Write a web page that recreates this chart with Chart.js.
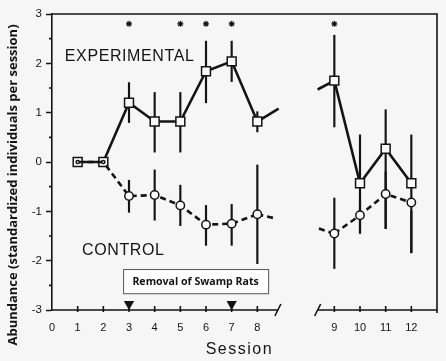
<!DOCTYPE html>
<html>
<head>
<meta charset="utf-8">
<script src="https://cdn.jsdelivr.net/npm/chart.js@4"></script>
<style>
body{margin:0;background:#f6f6f6}
#wrap{width:446px;height:361px}
</style>
</head>
<body>
<div id="wrap"><canvas id="chart" width="446" height="361"></canvas></div>
<script>

// sessions and the values
const sessions=[1,2,3,4,5,6,7,8,9,10,11,12]
const expMean=[0,0,1.2,0.82,0.82,1.84,2.04,0.82,1.65,-0.43,0.27,-0.43]
const expLow=[null,null,0.8,0.2,0.2,1.2,1.63,0.61,0.71,-1.4,-1.35,-1.84]
const expHigh=[null,null,1.61,1.41,1.41,2.45,2.45,1.02,2.57,0.55,1.06,0.55]
const ctrlMean=[0,0,-0.69,-0.67,-0.88,-1.27,-1.25,-1.06,-1.45,-1.08,-0.65,-0.82]
const ctrlLow=[null,null,-1.02,-1.18,-1.29,-1.69,-1.69,-2.06,-2.16,-1.45,-1.35,-1.84]
const ctrlHigh=[null,null,-0.37,-0.16,-0.47,-0.88,-0.86,-0.06,-0.73,-0.75,-0.2,-1.0]
const starSessions=[3,5,6,7,9]
const removalSessions=[3,7]
// where the lines leave / re-enter the axis break (session, value)
const expBreak=[[8.83,1.08],[10.35,1.47]]
const ctrlBreak=[[8.67,-1.14],[10.4,-1.35]]
const yTicks=[-3,-2,-1,0,1,2,3]

// sessions after 8 sit past a 2-unit axis break
const breakAfter=8
const gap=2
const xOf=s=>s>breakAfter?s+gap:s
const sessionOf=v=>v>breakAfter?v-gap:v

const ink="#141414"

function pts(means){
return sessions.map((s,i)=>({x:xOf(s),y:means[i]}))
}

function bars(lo,hi){
let out=[]
sessions.forEach((s,i)=>{
if(lo[i]!=null)out.push({x:xOf(s),y:[lo[i],hi[i]]})
})
return out
}

// no line across the axis break
const hideBreak={borderColor:ctx=>ctx.p1.parsed.x>breakAfter+gap-1&&ctx.p0.parsed.x<=breakAfter?"transparent":undefined}

const frame={
id:"frame",
beforeDraw(c){
const ctx=c.ctx
ctx.save()
ctx.fillStyle="#f6f6f6"
ctx.fillRect(0,0,c.width,c.height)
ctx.restore()
},
afterDraw(c){
const {ctx,chartArea:a,scales:{x,y}}=c
ctx.save()
ctx.strokeStyle=ink
ctx.lineWidth=1.6

// top and right frame
ctx.beginPath()
ctx.moveTo(a.left,a.top)
ctx.lineTo(a.right,a.top)
ctx.lineTo(a.right,a.bottom+3)
ctx.stroke()

// broken x axis
const bl=x.getPixelForValue(8.8)
const br=x.getPixelForValue(10.35)
ctx.beginPath()
ctx.moveTo(a.left,a.bottom)
ctx.lineTo(bl,a.bottom)
ctx.moveTo(br,a.bottom)
ctx.lineTo(a.right,a.bottom)
ctx.moveTo(bl-3,a.bottom+6)
ctx.lineTo(bl+3,a.bottom-6)
ctx.moveTo(br-3,a.bottom+6)
ctx.lineTo(br+3,a.bottom-6)
x.ticks.forEach(t=>{
if(t.value==0)return
const px=x.getPixelForValue(t.value)
ctx.moveTo(px,a.bottom-4)
ctx.lineTo(px,a.bottom+2)
})
// minor y ticks
for(let v=-2.5;v<3;v++){
const py=y.getPixelForValue(v)
ctx.moveTo(a.left-3,py)
ctx.lineTo(a.left,py)
}
ctx.stroke()

// labels inside the plot
ctx.fillStyle=ink
ctx.textBaseline="middle"
ctx.textAlign="left"
ctx.font="16px 'Liberation Sans'"
ctx.letterSpacing="0.6px"
ctx.fillText("EXPERIMENTAL",x.getPixelForValue(0.5),y.getPixelForValue(2.13))
ctx.fillText("CONTROL",x.getPixelForValue(1.17),y.getPixelForValue(-1.8))

// removal box
const bx0=x.getPixelForValue(2.77),bx1=x.getPixelForValue(8.42)
const by0=y.getPixelForValue(-2.17),by1=y.getPixelForValue(-2.66)
ctx.fillStyle="#ffffff"
ctx.fillRect(bx0,by0,bx1-bx0,by1-by0)
ctx.lineWidth=1
ctx.strokeStyle="#555"
ctx.strokeRect(bx0+0.5,by0+0.5,bx1-bx0,by1-by0)
ctx.fillStyle=ink
ctx.letterSpacing="0px"
ctx.textAlign="center"
ctx.font="bold 10.6px 'Open Sans'"
ctx.fillText("Removal of Swamp Rats",(bx0+bx1)/2,(by0+by1)/2+1)

// axis titles
ctx.font="16px 'Liberation Sans'"
ctx.letterSpacing="1.5px"
ctx.fillText("Session",x.getPixelForValue(7.3),350)
ctx.letterSpacing="0px"
ctx.translate(13,185)
ctx.rotate(-Math.PI/2)
ctx.font="bold 13px 'Open Sans'"
ctx.fillText("Abundance (standardized individuals per session)",0,0)
ctx.restore()
}
}

new Chart(document.getElementById("chart"),{
type:"line",
data:{
datasets:[
{
label:"stars",
data:starSessions.map(s=>({x:xOf(s),y:2.8})),
showLine:false,
pointStyle:"star",
pointRadius:3,
borderWidth:1.1,
borderColor:ink,
backgroundColor:ink
},
{
label:"removal",
data:removalSessions.map(s=>({x:xOf(s),y:-2.88})),
showLine:false,
pointStyle:"triangle",
rotation:180,
pointRadius:6,
borderWidth:0,
backgroundColor:ink
},
{
label:"Control",
data:pts(ctrlMean),
borderColor:ink,
borderWidth:2.6,
borderDash:[6,4],
backgroundColor:"#fafafa",
pointBorderColor:ink,
pointBorderWidth:1.5,
pointRadius:ctx=>ctx.dataIndex<2?1.6:4.2,
segment:hideBreak
},
{
label:"Experimental",
data:pts(expMean),
borderColor:ink,
borderWidth:2.6,
backgroundColor:"#fafafa",
pointStyle:"rect",
pointBorderColor:ink,
pointBorderWidth:1.5,
pointRadius:6.3,
segment:hideBreak
},
{
label:"exp break L",
data:[{x:xOf(8),y:expMean[7]},{x:expBreak[0][0],y:expBreak[0][1]}],
borderColor:ink,borderWidth:2.6,pointRadius:0
},
{
label:"exp break R",
data:[{x:expBreak[1][0],y:expBreak[1][1]},{x:xOf(9),y:expMean[8]}],
borderColor:ink,borderWidth:2.6,pointRadius:0
},
{
label:"ctrl break L",
data:[{x:xOf(8),y:ctrlMean[7]},{x:ctrlBreak[0][0],y:ctrlBreak[0][1]}],
borderColor:ink,borderWidth:2.6,borderDash:[6,4],pointRadius:0
},
{
label:"ctrl break R",
data:[{x:ctrlBreak[1][0],y:ctrlBreak[1][1]},{x:xOf(9),y:ctrlMean[8]}],
borderColor:ink,borderWidth:2.6,borderDash:[6,4],pointRadius:0
},
{
type:"bar",
label:"exp err",
data:bars(expLow,expHigh),
backgroundColor:ink,
barThickness:1.5,
grouped:false
},
{
type:"bar",
label:"ctrl err",
data:bars(ctrlLow,ctrlHigh),
backgroundColor:ink,
barThickness:1.5,
grouped:false
}
]
},
options:{
responsive:false,
animation:false,
devicePixelRatio:1,
layout:{padding:{top:14,right:9,left:0,bottom:0}},
plugins:{legend:{display:false},tooltip:{enabled:false}},
scales:{
x:{
type:"linear",
min:0,
max:15,
offset:false,
grid:{display:false,drawTicks:false},
border:{display:false},
afterFit:s=>{s.height=51},
afterBuildTicks:s=>{
s.ticks=[0,...sessions].map(v=>({value:xOf(v)}))
},
ticks:{
padding:11,
color:ink,
font:{family:"Liberation Sans",size:11},
callback:v=>String(sessionOf(v))
}
},
y:{
min:-3,
max:3,
afterFit:s=>{s.width=52},
afterBuildTicks:s=>{
s.ticks=yTicks.map(v=>({value:v}))
},
grid:{drawOnChartArea:false,tickLength:6,tickColor:ink,tickWidth:1.5},
border:{color:ink,width:1.6},
ticks:{
padding:4,
color:ink,
font:{family:"Liberation Sans",size:11.5}
}
}
}
},
plugins:[frame]
})

</script>
</body>
</html>
